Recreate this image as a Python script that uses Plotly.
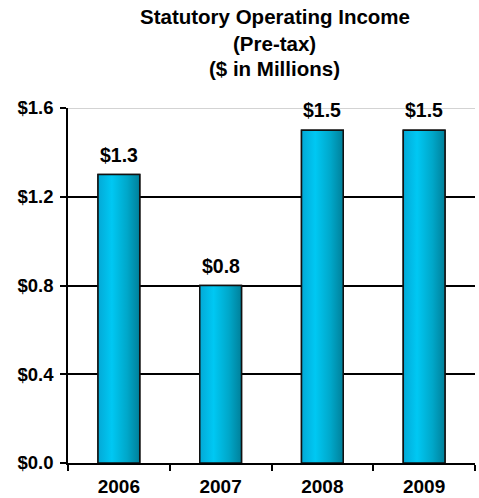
import plotly.graph_objects as go

# Chart data
years = ["2006", "2007", "2008", "2009"]
income = [1.3, 0.8, 1.5, 1.5]
y_ticks = [0.0, 0.4, 0.8, 1.2, 1.6]
y_tick_labels = ["$0.0", "$0.4", "$0.8", "$1.2", "$1.6"]
title_lines = ["Statutory Operating Income", "(Pre-tax)", "($ in Millions)"]

FONT = "Liberation Sans, Arial, sans-serif"
BAR_W = 0.41
EDGE = "#111111"
GRADIENT = [[0.0, "#03a9d6"], [0.33, "#00c8f3"], [0.7, "#00a7c9"], [1.0, "#00809a"]]

W, H = 479, 498
M_L, M_R, M_T, M_B = 68, 4, 108, 35
plot_h = H - M_T - M_B

fig = go.Figure()

# base bars
fig.add_trace(go.Bar(
    x=years, y=income, width=BAR_W,
    marker=dict(color="#00b8e4", line=dict(color=EDGE, width=1.5)),
    hoverinfo="x+y", showlegend=False,
))

# shaded faces of the bars (horizontal cylinder-like gradient)
for i, v in enumerate(income):
    x0, x1 = i - BAR_W / 2, i + BAR_W / 2
    fig.add_trace(go.Scatter(
        x=[x0, x1, x1, x0, x0], y=[0, 0, v, v, 0],
        xaxis="x2", yaxis="y",
        mode="lines", fill="toself",
        fillgradient=dict(type="horizontal", colorscale=GRADIENT),
        line=dict(color=EDGE, width=1.5),
        hoverinfo="skip", showlegend=False,
    ))

# value labels above the bars
for i, v in enumerate(income):
    fig.add_annotation(
        x=i, y=v, xref="x2", yref="y", text=f"<b>${v:.1f}</b>",
        showarrow=False, yanchor="bottom", yshift=7,
        font=dict(family=FONT, size=19.5, color="black"),
    )

# three-line title
for line, yc in zip(title_lines, [17, 43, 69]):
    fig.add_annotation(
        x=0.5, xref="paper", xshift=3,
        y=(H - M_B - yc) / plot_h, yref="paper", yanchor="middle",
        text=f"<b>{line}</b>", showarrow=False,
        font=dict(family=FONT, size=20.5, color="black"),
    )

# faint top gridline
fig.add_shape(type="line", xref="paper", yref="y", x0=0, x1=1,
              y0=y_ticks[-1], y1=y_ticks[-1],
              line=dict(color="#c4c4c4", width=1.5), layer="above")

fig.update_layout(
    width=W, height=H,
    margin=dict(l=M_L, r=M_R, t=M_T, b=M_B, pad=0, autoexpand=False),
    paper_bgcolor="white", plot_bgcolor="white",
    bargap=1 - BAR_W,
    xaxis=dict(
        type="category", range=[-0.5, 3.5], automargin=False,
        showline=True, linecolor="black", linewidth=1.5,
        ticks="outside", tickson="boundaries", ticklen=6, tickwidth=1.5,
        tickcolor="black", showgrid=False,
        tickfont=dict(family=FONT, size=19, color="black", weight="bold"),
        ticklabelstandoff=5,
    ),
    xaxis2=dict(
        overlaying="x", range=[-0.5, 3.5], visible=False,
        showgrid=False, zeroline=False,
    ),
    yaxis=dict(
        range=[0, 1.6], tickvals=y_ticks, ticktext=y_tick_labels,
        automargin=False,
        showline=True, linecolor="black", linewidth=1.5,
        ticks="outside", ticklen=6, tickwidth=1.5, tickcolor="black",
        showgrid=True, gridcolor="black", gridwidth=1.5, zeroline=False,
        tickfont=dict(family=FONT, size=18.5, color="black", weight="bold"),
        ticklabelstandoff=3,
    ),
)

fig.write_html("out.html")
